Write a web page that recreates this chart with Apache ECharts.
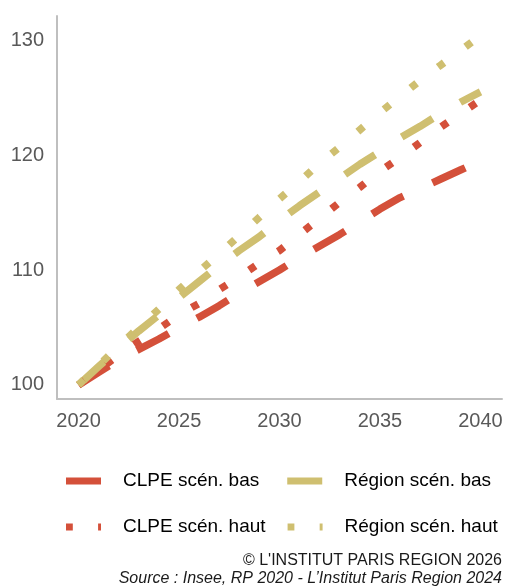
<!DOCTYPE html>
<html>
<head>
<meta charset="utf-8">
<script src="https://cdn.jsdelivr.net/npm/echarts@6/dist/echarts.min.js"></script>
<style>
  html, body { margin: 0; padding: 0; background: #fff; }
  #myCharts { width: 511px; height: 586px; }
</style>
</head>
<body>
<div id="myCharts"></div>
<script>
// données (base 100 en 2020)
const years = [2020, 2021, 2022, 2023, 2024, 2025, 2026, 2027, 2028, 2029, 2030,
  2031, 2032, 2033, 2034, 2035, 2036, 2037, 2038, 2039, 2040];
const clpeBas = [100, 101.1, 102.2, 103.1, 104.0, 105.0, 105.9, 106.9, 108.0, 109.0, 110.0,
  111.1, 112.1, 113.1, 114.2, 115.3, 116.3, 117.1, 117.9, 118.7, 119.5];
const regionBas = [100, 101.6, 103.2, 104.7, 106.1, 107.6, 109.0, 110.4, 111.7, 112.9, 114.3,
  115.6, 116.8, 118.0, 119.2, 120.3, 121.5, 122.5, 123.6, 124.6, 125.5];
const clpeHaut = [100, 101.3, 102.6, 103.8, 104.9, 106.1, 107.1, 108.3, 109.4, 110.6, 111.7,
  113.1, 114.5, 115.9, 117.2, 118.6, 119.8, 121.1, 122.4, 123.6, 124.8];
const regionHaut = [100, 101.7, 103.4, 105.0, 106.6, 108.3, 109.9, 111.4, 113.0, 114.6, 116.2,
  117.7, 119.3, 120.7, 122.2, 123.7, 125.1, 126.5, 127.8, 129.1, 130.4];
const xTicks = [2020, 2025, 2030, 2035, 2040];
const yTicks = [100, 110, 120, 130];

const RED = "#d4503a";
const KHAKI = "#cfbf70";
const FONT = "'Liberation Sans', Arial, sans-serif";

const pairs = arr => years.map((y, i) => [y, arr[i]]);

const myCharts = echarts.init(document.getElementById("myCharts"));

const longDash = [36, 32];
const dot = [7.5, 26.8];
const dotIcon = "path://M0,0h7v7h-7z M33,0h3v7h-3z";

let option = {
  animation: false,
  grid: { left: 57, right: 9, top: 16, bottom: 187 },
  xAxis: {
    type: "value",
    min: 2018.93,
    max: 2041.07,
    axisLine: { lineStyle: { color: "#bfbfbf", width: 2 } },
    axisTick: { show: false },
    splitLine: { show: false },
    axisLabel: {
      customValues: xTicks,
      formatter: v => String(v),
      color: "#595959",
      fontSize: 20,
      fontFamily: FONT,
      margin: 12
    }
  },
  yAxis: {
    type: "value",
    min: 98.78,
    max: 132.1,
    axisLine: { show: true, lineStyle: { color: "#bfbfbf", width: 2 } },
    axisTick: { show: false },
    splitLine: { show: false },
    axisLabel: {
      customValues: yTicks,
      formatter: v => String(v),
      color: "#595959",
      fontSize: 20,
      fontFamily: FONT,
      margin: 13
    }
  },
  legend: [
    {
      left: 61, top: 466, itemWidth: 35, itemHeight: 7, itemGap: 28,
      textStyle: { color: "#000", fontSize: 19, fontFamily: FONT, padding: [0, 0, 0, 17], lineHeight: 20 },
      data: [
        { name: "CLPE scén. bas", icon: "rect", itemStyle: { color: RED, borderWidth: 0 } },
        { name: "Région scén. bas", icon: "rect", itemStyle: { color: KHAKI, borderWidth: 0 } }
      ]
    },
    {
      left: 61, top: 512, itemWidth: 35, itemHeight: 7, itemGap: 22,
      textStyle: { color: "#000", fontSize: 19, fontFamily: FONT, padding: [0, 0, 0, 17], lineHeight: 20 },
      data: [
        { name: "CLPE scén. haut", icon: dotIcon, itemStyle: { color: RED, borderWidth: 0 } },
        { name: "Région scén. haut", icon: dotIcon, itemStyle: { color: KHAKI, borderWidth: 0 } }
      ]
    }
  ],
  graphic: [
    {
      type: "text", right: 9, top: 553,
      style: { text: "© L'INSTITUT PARIS REGION 2026", fill: "#1a1a1a", font: "16px " + FONT }
    },
    {
      type: "text", right: 9, top: 571,
      style: { text: "Source : Insee, RP 2020 - L’Institut Paris Region 2024", fill: "#1a1a1a", font: "italic 16px " + FONT }
    }
  ],
  series: [
    {
      name: "CLPE scén. bas", type: "line", symbol: "none", color: RED,
      lineStyle: { width: 7.5, type: longDash, cap: "butt" },
      data: pairs(clpeBas)
    },
    {
      name: "Région scén. bas", type: "line", symbol: "none", color: KHAKI,
      lineStyle: { width: 7.5, type: longDash, cap: "butt" },
      data: pairs(regionBas)
    },
    {
      name: "CLPE scén. haut", type: "line", symbol: "none", color: RED,
      lineStyle: { width: 7.5, type: dot, cap: "butt" },
      data: pairs(clpeHaut)
    },
    {
      name: "Région scén. haut", type: "line", symbol: "none", color: KHAKI,
      lineStyle: { width: 7.5, type: dot, cap: "butt" },
      data: pairs(regionHaut)
    }
  ]
};
myCharts.setOption(option);
</script>
</body>
</html>
